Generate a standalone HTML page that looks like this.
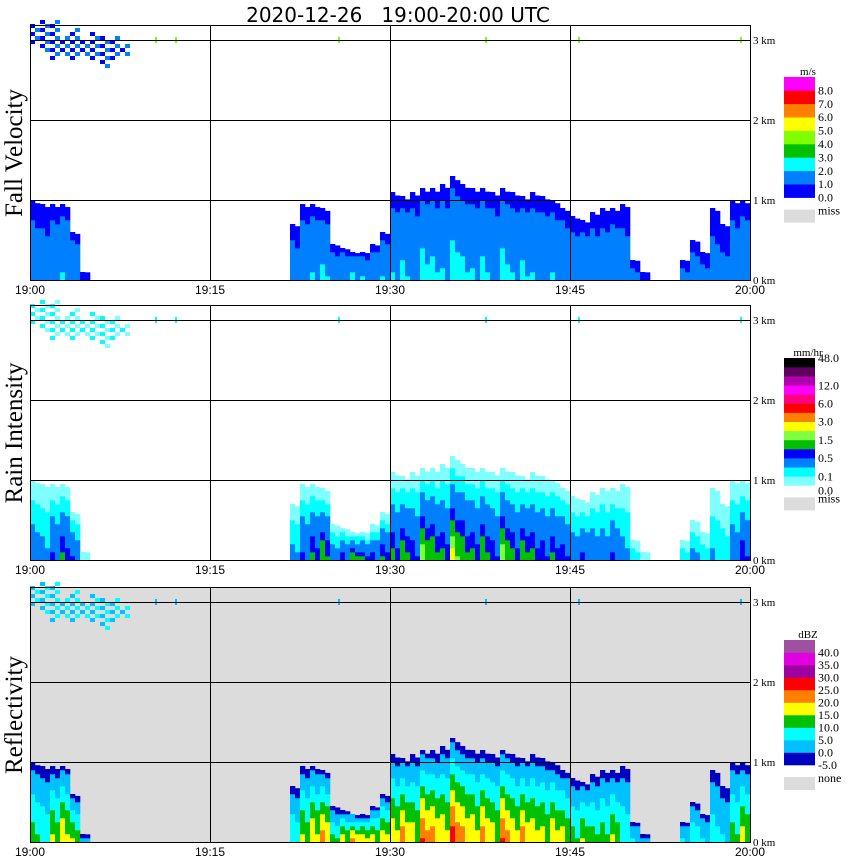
<!DOCTYPE html>
<html><head><meta charset="utf-8">
<style>
html,body{margin:0;padding:0;background:#fff;}
svg{display:block;}
text{font-family:"Liberation Serif",serif;fill:#000;}
</style></head>
<body>
<svg id="chart" width="850" height="868" viewBox="0 0 850 868" xmlns="http://www.w3.org/2000/svg">
<text x="398" y="22" text-anchor="middle" xml:space="preserve" style="font-family:'DejaVu Sans',sans-serif;font-size:20px;white-space:pre">2020-12-26   19:00-20:00 UTC</text>
<g id="panels"></g>
</svg>
<script>
// ---- data ----
const timeStepMin = 60 / 72;            // each bin = 50 s
const echoTopKm = [1.0,0.95,0.95,0.95,0.6,0.1,0,0,0,0,0,0,0,0,0,0,0,0,0,0,0,0,0,0,0,0,
  0.7,0.95,0.95,0.9,0.45,0.4,0.35,0.35,0.45,0.6,
  1.1,1.05,1.1,1.15,1.15,1.2,1.3,1.2,1.15,1.15,1.1,1.15,1.1,1.05,1.1,1.05,1.0,
  0.9,0.8,0.75,0.85,0.9,0.9,0.95,0.25,0.1,0,0,0,0.25,0.5,0.35,0.9,0.7,1.0,1.0];
const coreDbz = [15,12,18,22,18,5,0,0,0,0,0,0,0,0,0,0,0,0,0,0,0,0,0,0,0,0,
  12,18,22,25,15,20,25,22,20,22,
  22,25,20,28,25,22,30,25,22,25,20,28,22,25,22,20,22,
  20,15,18,15,15,18,12,8,5,0,0,0,8,12,8,10,8,15,20];
const upperTopKm  = [3.15,3.2,3.2,3.0,3.1,2.95,3.05,3.0,3.0,2.9];
const upperBaseKm = [2.95,2.85,2.75,2.8,2.75,2.8,2.75,2.65,2.75,2.8];
const timeTicks = ["19:00","19:15","19:30","19:45","20:00"];
const kmTicks = [0,1,2,3];
const fvLabels = ["8.0","7.0","6.0","5.0","4.0","3.0","2.0","1.0","0.0"];
const rainLabels = ["48.0","12.0","6.0","3.0","1.5","0.5","0.1","0.0"];
const dbzLabels = ["40.0","35.0","30.0","25.0","20.0","15.0","10.0","5.0","0.0","-5.0"];
const fvColors = ["#0000ff","#0080ff","#00ffff","#00c000","#80ff00","#ffff00","#ff8000","#ff0000","#ff00ff"];
const fvThresh = [0,1,2,3,4,5,6,7,8];
const rainColors = ["#80ffff","#00ffff","#0080ff","#0000ff","#00c000","#80ff40","#ffff00","#ff8000","#ff0000","#ff0080","#ff00ff","#b000b0","#600060","#000000"];
const rainThresh = [0,0.05,0.1,0.3,0.5,1.0,1.5,2.2,3,4.5,6,9,12,48];
const dbzColors = ["#0000c0","#00c0ff","#00ffff","#00c000","#ffff00","#ff8000","#ff0000","#a000a0","#e000e0","#a050a0"];
const dbzThresh = [-5,0,5,10,15,20,25,30,35,40];

const NS = "http://www.w3.org/2000/svg";
const root = document.getElementById("panels");
const X0 = 30, X1 = 750, PXKM = 80;
function xScale(min){ return X0 + min * (X1 - X0) / 60; }
function pick(v, th, cols){ let c = null; for (let i=0;i<th.length;i++){ if (v >= th[i]) c = cols[i]; } return c; }
function mk(tag, attrs, parent){ const e = document.createElementNS(NS, tag); for (const k in attrs) e.setAttribute(k, attrs[k]); parent.appendChild(e); return e; }
function dbzAt(core, top, h){ const f = h / top; return core * (1 - Math.pow(f, 1.2)) - 2; }
function toRain(d){ return Math.pow(Math.pow(10, d / 10) / 200, 0.625); }
function toFv(d){ return 0.85 + d / 16; }

const panels = [
  {name:"fall-velocity", label:"Fall Velocity", top:25, bg:"#ffffff", cols:fvColors, th:fvThresh, conv:toFv, labels:fvLabels, unit:"m/s", lgTop:77, blockH:13.4, miss:"miss", upper:["#0000ff","#0080ff"], spot:"#80ff00"},
  {name:"rain-intensity", label:"Rain Intensity", top:305, bg:"#ffffff", cols:rainColors, th:rainThresh, conv:toRain, labels:rainLabels, unit:"mm/hr", lgTop:358, blockH:9.1, miss:"miss", upper:["#00ffff","#80ffff"], spot:"#00ffff"},
  {name:"reflectivity", label:"Reflectivity", top:587, bg:"#dcdcdc", cols:dbzColors, th:dbzThresh, conv:(d)=>d, labels:dbzLabels, unit:"dBZ", lgTop:640, blockH:12.5, miss:"none", upper:["#00c0ff","#00ffff"], spot:"#00c0ff"}
];

panels.forEach((p) => {
  const g = mk("g", {}, root);
  
  
  const bottom = p.top + 255;
  const yScale = (km) => bottom - km * PXKM;
  const bgR = mk("rect", {x:X0, y:p.top, width:X1-X0, height:255, fill:p.bg}, g);
  
  
  const cells = mk("g", {}, g);
  
  
  echoTopKm.forEach((topKm, i) => {
    if (topKm <= 0) return;
    for (let s = 0; s < 2; s++) {
      const core = coreDbz[i] * (s ? 0.85 : 1);
      const tp = topKm * (s ? 0.96 : 1);
      const x = xScale((i + s * 0.5) * timeStepMin);
      const w = xScale(timeStepMin * 0.5) - X0;
      for (let h = 0; h < tp; h += 0.05) {
        const v = p.conv(dbzAt(core, tp, h + 0.025));
        const c = pick(v, p.th, p.cols) || p.cols[0];
        const r = mk("rect", {x:x, y:yScale(Math.min(h + 0.05, tp)), width:w + 0.3, height:Math.min(0.05, tp - h) * PXKM + 0.3, fill:c}, cells);
        
        
      }
    }
  });
  upperTopKm.forEach((t, i) => {
    for (let s = 0; s < 2; s++) {
      const x = xScale((i + s * 0.5) * timeStepMin);
      const w = xScale(timeStepMin * 0.5) - X0;
      let row = 0;
      for (let h = upperBaseKm[i]; h < t; h += 0.05, row++) {
        if ((row + s + i) % 2) continue;
        const r = mk("rect", {x:x, y:yScale(h + 0.05), width:w, height:4, fill:p.upper[(row + i) % 2]}, cells);
        
        
      }
    }
  });
  [155,175,338,485,578,740].forEach((sx) => {
    const r = mk("rect", {x:sx, y:yScale(3) - 3, width:2, height:6, fill:p.spot}, cells);
    
    
  });
  [1,2,3].forEach((km) => {
    const l = mk("line", {x1:X0, x2:X1, y1:yScale(km)+0.5, y2:yScale(km)+0.5, stroke:"#000", "stroke-width":1}, g);
    
    
  });
  [15,30,45].forEach((m) => {
    const l = mk("line", {x1:xScale(m)+0.5, x2:xScale(m)+0.5, y1:p.top, y2:bottom, stroke:"#000", "stroke-width":1}, g);
    
    
  });
  const fr = mk("rect", {x:X0+0.5, y:p.top+0.5, width:X1-X0, height:255, fill:"none", stroke:"#000", "stroke-width":1}, g);
  
  
  kmTicks.forEach((km) => {
    const t = mk("text", {x:753, y:yScale(km) + 4, "font-size":11}, g);
    t.textContent = km + " km";
    
    
  });
  timeTicks.forEach((lab, i) => {
    const t = mk("text", {x:xScale(i * 15), y:bottom + 14, "font-size":12, "text-anchor":"middle", style:"font-family:'Liberation Sans',sans-serif"}, g);
    t.textContent = lab;
    
    
  });
  const yt = mk("text", {x:0, y:0, "font-size":25, "text-anchor":"middle", transform:"translate(22," + (p.top + 128) + ") rotate(-90)"}, g);
  yt.textContent = p.label;
  
  
  const lg = mk("g", {}, g);
  
  
  const ut = mk("text", {x:808, y:p.lgTop - 2, "font-size":11, "text-anchor":"middle"}, lg);
  ut.textContent = p.unit;
  
  
  const n = p.cols.length;
  p.cols.forEach((c, i) => {
    const yy = p.lgTop + (n - 1 - i) * p.blockH;
    const r = mk("rect", {x:784, y:yy, width:31, height:p.blockH + 0.3, fill:c}, lg);
    
    
  });
  const lgBottom = p.lgTop + n * p.blockH;
  const step = p.blockH;
  p.labels.forEach((lab, i) => {
    let yy;
    if (p.name === "rain-intensity") {
      const pos = [1,3,5,7,9,11,13,14][i];
      yy = p.lgTop + pos * p.blockH - (i === 0 ? p.blockH : 0) + 4;
      if (i === 7) yy += 5;
    } else {
      yy = p.lgTop + (i + 1) * step + 4;
    }
    const t = mk("text", {x:818, y:yy, "font-size":12}, lg);
    t.textContent = lab;
    
    
  });
  const mr = mk("rect", {x:784, y:lgBottom + 12, width:31, height:13, fill:"#dcdcdc"}, lg);
  
  
  const mt = mk("text", {x:818, y:lgBottom + 17, "font-size":12}, lg);
  mt.textContent = p.miss;
  
  
});
</script>
</body></html>
